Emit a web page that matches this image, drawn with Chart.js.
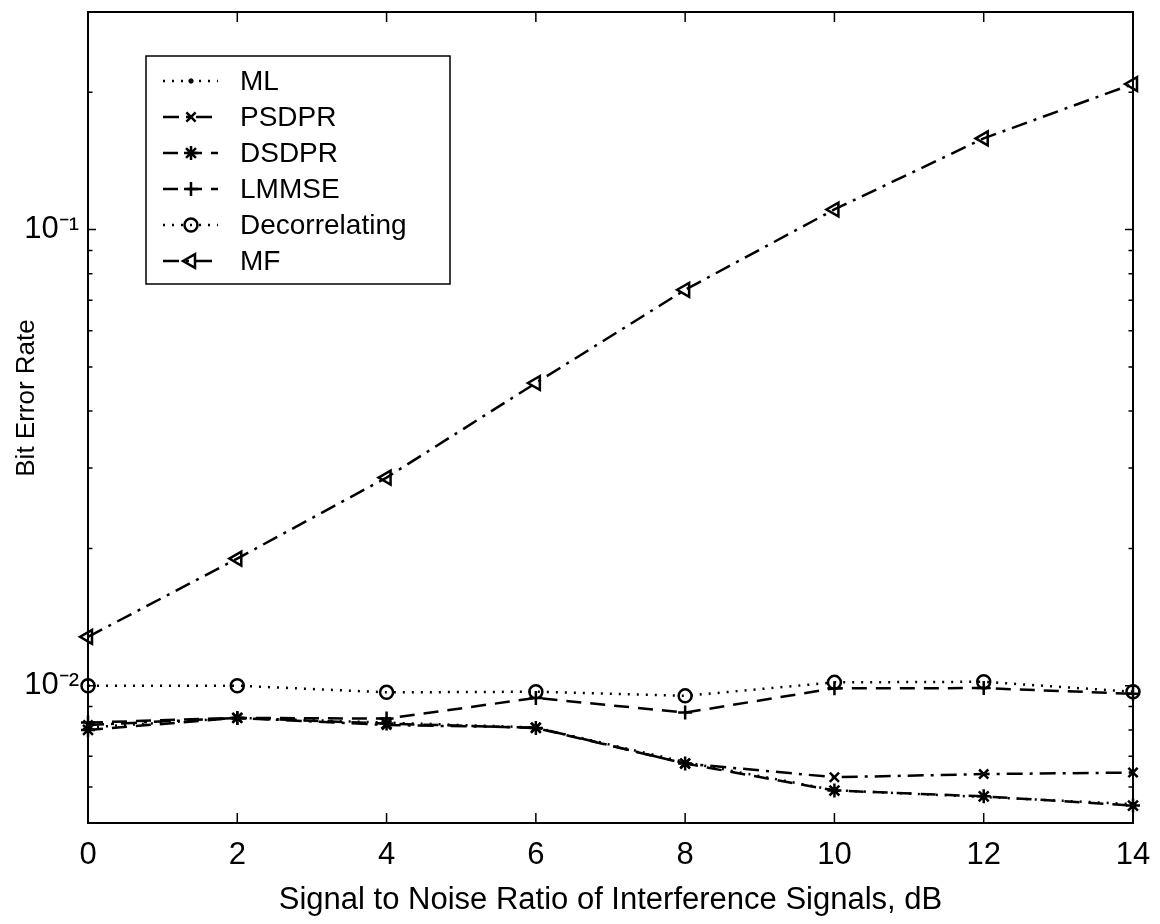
<!DOCTYPE html>
<html><head><meta charset="utf-8">
<script src="https://cdn.jsdelivr.net/npm/chart.js@4/dist/chart.umd.min.js"></script>
<style>html,body{margin:0;padding:0;background:#fff;} #wrap{width:1160px;height:924px;}</style>
</head><body><div id="wrap"><canvas id="c" width="1160" height="924"></canvas></div>
<script>
// ---- data ----
const snrDb = [0, 2, 4, 6, 8, 10, 12, 14];
const mlBer = [0.0081, 0.0085, 0.0083, 0.0081, 0.0068, 0.0059, 0.0057, 0.0055];
const psdprBer = [0.0082, 0.0085, 0.0082, 0.0081, 0.00675, 0.0063, 0.0064, 0.00645];
const dsdprBer = [0.0080, 0.0085, 0.00826, 0.00808, 0.00675, 0.00589, 0.00572, 0.00546];
const lmmseBer = [0.0083, 0.0085, 0.00847, 0.0094, 0.00873, 0.00987, 0.00988, 0.0096];
const decorrBer = [0.0100, 0.0100, 0.00967, 0.0097, 0.00950, 0.01017, 0.0102, 0.0097];
const mfBer = [0.0128, 0.0190, 0.0286, 0.0461, 0.0738, 0.1107, 0.1585, 0.2086];

const xTickValues = [0, 2, 4, 6, 8, 10, 12, 14];
const yTickValues = [0.005, 0.006, 0.007, 0.008, 0.009, 0.01, 0.02, 0.03, 0.04, 0.05, 0.06, 0.07, 0.08, 0.09, 0.1, 0.2, 0.3];
const yLabelValues = [0.01, 0.1];
const yLabelTexts = ['10\u207B\u00B2', '10\u207B\u00B9'];
const seriesNames = ['ML', 'PSDPR', 'DSDPR', 'LMMSE', 'Decorrelating', 'MF'];
const xTitle = 'Signal to Noise Ratio of Interference Signals, dB';
const yTitle = 'Bit Error Rate';

const FONT = "'Liberation Sans', Arial, Helvetica, sans-serif";
Chart.defaults.font.family = FONT;
Chart.defaults.color = '#000';

const pts = arr => snrDb.map((x, i) => ({x: x, y: arr[i]}));
const base = {borderColor: '#000', borderWidth: 2.5, pointBorderWidth: 2.5, pointBorderColor: '#000',
  fill: false, tension: 0, clip: false, pointHoverRadius: 0};

const datasets = [
  Object.assign({}, base, {label: seriesNames[0], data: pts(mlBer), borderDash: [2, 7],
    pointStyle: 'circle', pointRadius: 2.2, pointBackgroundColor: '#000', pointBorderWidth: 1}),
  Object.assign({}, base, {label: seriesNames[1], data: pts(psdprBer), borderDash: [16, 7, 3, 7],
    pointStyle: 'crossRot', pointRadius: 6.5, pointBackgroundColor: 'rgba(0,0,0,0)'}),
  Object.assign({}, base, {label: seriesNames[2], data: pts(dsdprBer), borderDash: [15, 9],
    pointStyle: 'star', pointRadius: 7, pointBackgroundColor: 'rgba(0,0,0,0)'}),
  Object.assign({}, base, {label: seriesNames[3], data: pts(lmmseBer), borderDash: [15, 9],
    pointStyle: 'cross', pointRadius: 7, pointBackgroundColor: 'rgba(0,0,0,0)'}),
  Object.assign({}, base, {label: seriesNames[4], data: pts(decorrBer), borderDash: [2, 7],
    pointStyle: 'circle', pointRadius: 6.5, pointBackgroundColor: 'rgba(0,0,0,0)'}),
  Object.assign({}, base, {label: seriesNames[5], data: pts(mfBer), borderDash: [16, 7, 3, 7],
    pointStyle: 'triangle', pointRotation: -90, pointRadius: 8, pointBackgroundColor: 'rgba(0,0,0,0)'})
];

function drawMarker(ctx, ds, x, y) {
  ctx.setLineDash([]);
  ctx.strokeStyle = '#000';
  ctx.fillStyle = ds.pointBackgroundColor;
  ctx.lineWidth = ds.pointBorderWidth;
  if (Chart.helpers && Chart.helpers.drawPoint) {
    Chart.helpers.drawPoint(ctx, {pointStyle: ds.pointStyle, rotation: ds.pointRotation || 0,
      radius: ds.pointRadius, borderWidth: ds.pointBorderWidth}, x, y);
  }
}

const framePlugin = {
  id: 'frameAndLegend',
  afterDatasetsDraw(chart) {
    const ctx = chart.ctx, a = chart.chartArea, xs = chart.scales.x, ys = chart.scales.y;
    ctx.save();
    ctx.setLineDash([]);
    ctx.strokeStyle = '#000';
    // inward ticks
    ctx.lineWidth = 1.5;
    ctx.beginPath();
    xTickValues.forEach(v => {
      const px = xs.getPixelForValue(v);
      ctx.moveTo(px, a.bottom); ctx.lineTo(px, a.bottom - 10);
      ctx.moveTo(px, a.top); ctx.lineTo(px, a.top + 10);
    });
    yTickValues.forEach(v => {
      const py = ys.getPixelForValue(v);
      const L = yLabelValues.includes(v) ? 8 : 4.5;
      ctx.moveTo(a.left, py); ctx.lineTo(a.left + L, py);
      ctx.moveTo(a.right, py); ctx.lineTo(a.right - L, py);
    });
    ctx.stroke();
    // frame
    ctx.lineWidth = 2;
    ctx.strokeRect(a.left, a.top, a.right - a.left, a.bottom - a.top);

    // y axis title
    ctx.save();
    ctx.translate(27, a.top + 386);
    ctx.rotate(-Math.PI / 2);
    ctx.font = '26px ' + FONT;
    ctx.fillStyle = '#000';
    ctx.textAlign = 'center';
    ctx.textBaseline = 'middle';
    ctx.fillText(yTitle, 0, 0);
    ctx.restore();

    // legend
    const lx = a.left + 58, ly = a.top + 44, lw = 304, lh = 228;
    ctx.fillStyle = '#fff';
    ctx.fillRect(lx, ly, lw, lh);
    ctx.lineWidth = 1.5;
    ctx.strokeRect(lx, ly, lw, lh);
    ctx.font = '28px ' + FONT;
    ctx.textBaseline = 'middle';
    ctx.textAlign = 'left';
    chart.data.datasets.forEach((ds, i) => {
      const ry = ly + 25 + 36 * i;
      ctx.setLineDash(ds.borderDash);
      ctx.lineWidth = ds.borderWidth;
      ctx.strokeStyle = '#000';
      ctx.beginPath();
      ctx.moveTo(lx + 17, ry); ctx.lineTo(lx + 72, ry);
      ctx.stroke();
      drawMarker(ctx, ds, lx + 45, ry);
      ctx.fillStyle = '#000';
      ctx.fillText(ds.label, lx + 94, ry + 1);
    });
    ctx.restore();
  }
};

new Chart(document.getElementById('c'), {
  type: 'line',
  data: {datasets: datasets},
  options: {
    responsive: false,
    animation: false,
    events: [],
    layout: {padding: {left: 0, right: 27, top: 12, bottom: 0}},
    plugins: {legend: {display: false}, tooltip: {enabled: false}},
    scales: {
      x: {
        type: 'linear', min: 0, max: 14,
        afterBuildTicks(s) { s.ticks = xTickValues.map(v => ({value: v})); },
        ticks: {padding: 14, color: '#000', font: {size: 31}, maxRotation: 0, autoSkip: false},
        grid: {display: false, drawTicks: false},
        border: {display: false},
        title: {display: true, text: xTitle,
          font: {size: 31}, color: '#000', padding: {top: 0, bottom: 5}},
        afterFit(s) { s.height = 101; s.paddingLeft = 0; s.paddingRight = 0; }
      },
      y: {
        type: 'logarithmic', min: 0.005, max: 0.3,
        afterBuildTicks(s) { s.ticks = yTickValues.map(v => ({value: v, major: yLabelValues.includes(v)})); },
        ticks: {
          autoSkip: false, padding: 9, color: '#000', font: {size: 31},
          callback(v) { const i = yLabelValues.findIndex(u => Math.abs(u - v) < 1e-9); return i >= 0 ? yLabelTexts[i] : ''; }
        },
        grid: {display: false, drawTicks: false},
        border: {display: false},
        title: {display: false},
        afterFit(s) { s.width = 88; s.paddingTop = 0; s.paddingBottom = 0; }
      }
    }
  },
  plugins: [framePlugin]
});
</script>
</body></html>
